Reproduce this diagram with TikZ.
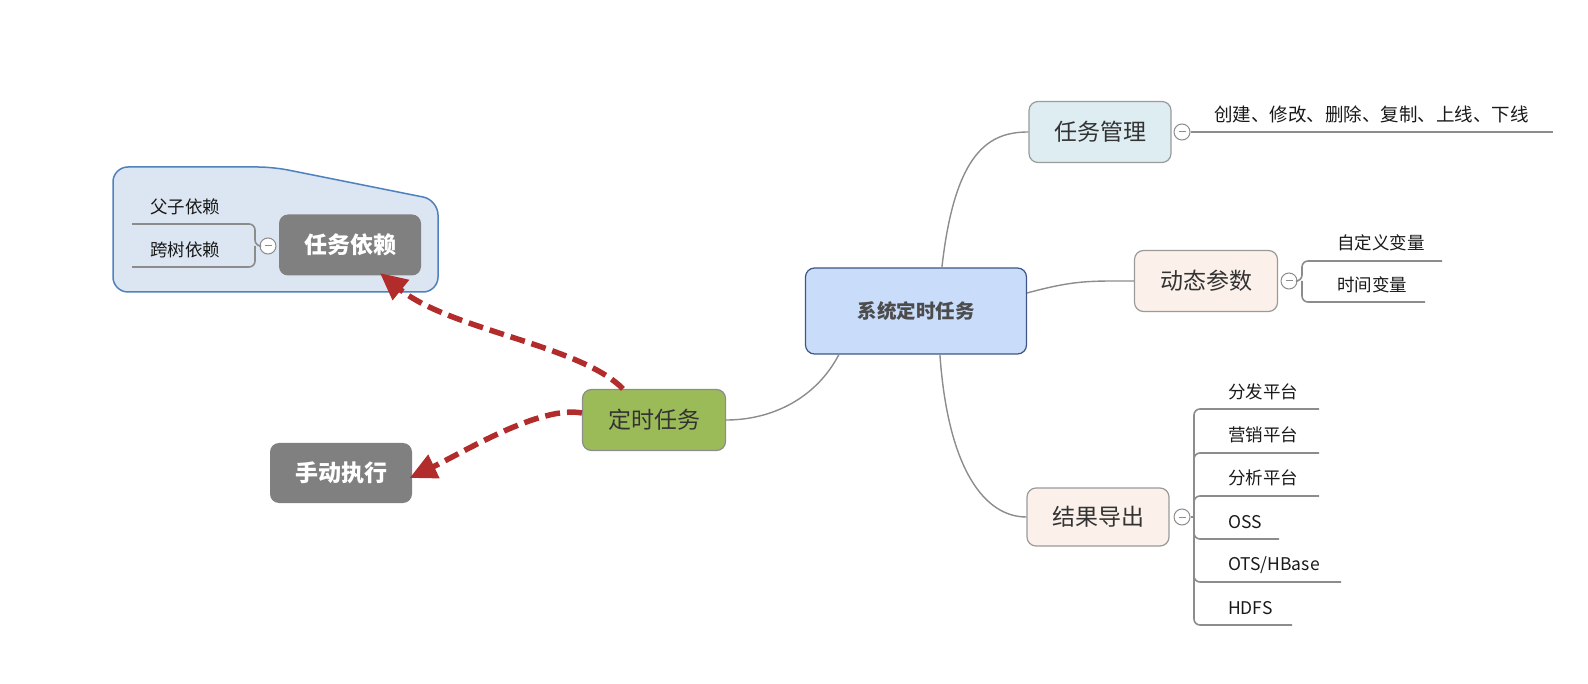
\documentclass[tikz,border=0pt]{standalone}
\usepackage{fontspec}
\setmainfont{Noto Sans CJK SC}
\usetikzlibrary{arrows.meta}
\definecolor{linegray}{HTML}{8C8C8C}
\definecolor{boxgray}{HTML}{9A9A9A}
\definecolor{textdark}{HTML}{333333}
\definecolor{sysfill}{HTML}{C9DDFA}
\definecolor{sysline}{HTML}{3D5685}
\definecolor{mgmtfill}{HTML}{DDEDF1}
\definecolor{peachfill}{HTML}{FBF1EA}
\definecolor{greenfill}{HTML}{9BBB59}
\definecolor{darkgray}{HTML}{808080}
\definecolor{zonefill}{HTML}{DCE6F2}
\definecolor{zoneline}{HTML}{4F81BD}
\definecolor{dashred}{HTML}{B22C2C}
\tikzset{
  topic/.style={draw=boxgray,line width=1.2pt,rounded corners=9pt,minimum width=142pt,minimum height=61pt,
    font=\fontsize{23}{26}\selectfont,text=textdark},
  grey topic/.style={topic,draw=none,fill=darkgray,text=white,font=\fontsize{23}{26}\selectfont\bfseries},
  leaf/.style={anchor=west,inner sep=0pt,font=\fontsize{17.5}{20}\selectfont,text=black!90},
  conn/.style={draw=linegray,line width=1.4pt},
  branch/.style={draw=linegray,line width=1.6pt,rounded corners=6pt},
  fold/.style={circle,draw=linegray,fill=white,line width=1pt,minimum size=16pt,inner sep=0pt,
    path picture={\draw[linegray,line width=1pt] ([xshift=-3.5pt]path picture bounding box.center) -- ([xshift=3.5pt]path picture bounding box.center);}},
  relation/.style={draw=dashred,line width=5.5pt,dash pattern=on 15pt off 7pt,-{Triangle[length=27pt,width=25pt]}}
}

\begin{document}
\begin{tikzpicture}[x=1pt,y=-1pt]

          \useasboundingbox (0,0) rectangle (1588,684);

          % boundary round the dependencies
          \draw[fill=zonefill,draw=zoneline,line width=1.5pt,rounded corners=15pt]
            (113,167) -- (273,167) -- (438,200) -- (438,292) -- (113,292) -- cycle;

          \node[topic,draw=sysline,fill=sysfill,minimum width=221pt,minimum height=86pt,
            font=\fontsize{19.5}{22}\selectfont\bfseries,text=black!70] (sys) at (916,311){系统定时任务};

          \node[topic,fill=mgmtfill] (mgmt) at (1100,132){任务管理};
          \node[topic,fill=peachfill,minimum width=143pt] (param) at (1206,281){动态参数};
          \node[topic,fill=peachfill,minimum height=58pt] (export) at (1098,517){结果导出};
          \node[topic,fill=greenfill,draw=linegray,minimum width=143pt] (timed) at (654,420){定时任务};
          \node[grey topic,minimum height=60pt] (manual) at (341,473){手动执行};
          \node[grey topic] (dep) at (350,245){任务依赖};

          \draw[conn]([xshift=34pt]sys.south west) .. controls (815,400) and (770,420) .. (timed.east);
          \draw[conn]([xshift=137pt]sys.north west) .. controls (955,150) and (990,132) .. (mgmt.west);
          \draw[conn]([yshift=18pt]sys.east) .. controls (1075,280) and (1090,281) .. (param.west);
          \draw[conn]([xshift=135pt]sys.south west) .. controls (948,470) and (985,517) .. (export.west);

          % task management
          \node[fold] (f1) at (1182,132){};
          \coordinate (m1) at (1553,132);
          \draw[branch](f1)--(m1);
          \node[leaf,font=\fontsize{18.5}{21}\selectfont] (t11) at (1214,114){创建、修改、删除、复制、上线、下线};

          % dynamic parameters
          \node[fold] (f2) at (1289,281){};
          \coordinate (j2) at (1302,281);
          \coordinate (m21) at (1442,261);
          \coordinate (m22) at (1425,302);
          \draw[branch](f2)--(j2)|-(m21);
          \draw[branch](j2)|-(m22);
          \node[leaf] (t21) at (1337,243){自定义变量};
          \node[leaf] (t22) at (1337,285){时间变量};

          % result export
          \node[fold] (f3) at (1182,517){};
          \coordinate (j3) at (1194,517);
          \coordinate (m31) at (1319,409);
          \coordinate (m32) at (1319,453);
          \coordinate (m33) at (1319,496);
          \coordinate (m34) at (1279,539);
          \coordinate (m35) at (1341,582);
          \coordinate (m36) at (1292,625);
          \draw[branch](f3)--(j3);
          \foreach \m in {m31,m32,m33,m34,m35,m36}
            \draw[branch](j3)|-(\m);
          \node[leaf] (t31) at (1228,392){分发平台};
          \node[leaf] (t32) at (1228,435){营销平台};
          \node[leaf] (t33) at (1228,478){分析平台};
          \node[leaf] (t34) at (1228,522){OSS};
          \node[leaf] (t35) at (1228,565){OTS/HBase};
          \node[leaf] (t36) at (1228,608){HDFS};

          % task dependencies
          \node[fold] (f0) at (268,246){};
          \coordinate (j0) at (255,246);
          \coordinate (m01) at (132,224);
          \coordinate (m02) at (132,267);
          \draw[branch](f0)--(j0)|-(m01);
          \draw[branch](j0)|-(m02);
          \node[leaf] (t01) at (150,207){父子依赖};
          \node[leaf] (t02) at (150,250){跨树依赖};

          \draw[relation]([xshift=-31pt]timed.north) .. controls (580,345) and (450,330) .. ([xshift=30pt,yshift=3pt]dep.south);
          \draw[relation]([yshift=7pt]timed.west) .. controls (540,405) and (462,453) .. ([xshift=-3pt,yshift=-5pt]manual.east);

        \end{tikzpicture}
\end{document}
